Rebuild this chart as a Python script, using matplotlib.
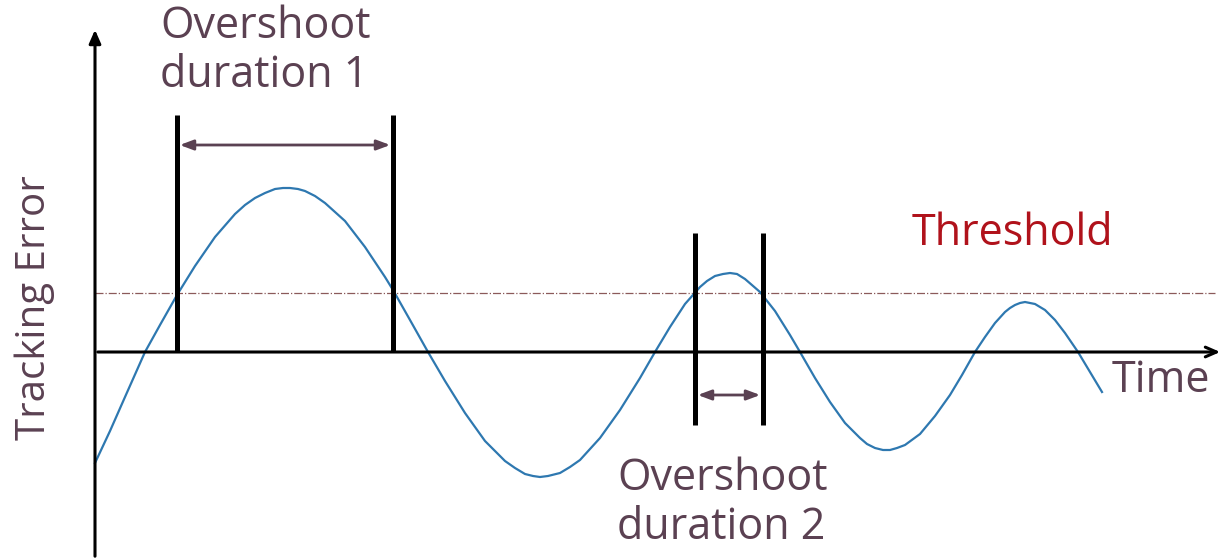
import numpy as np
import matplotlib.pyplot as plt

# tracking error curve (x: time, y: error)
t = [0, 15, 30, 50, 65, 82, 100, 120, 140, 150, 160, 170, 180, 188, 195, 203, 210,
     220, 230, 250, 270, 290, 298, 315, 333, 350, 370, 390, 410, 420, 430, 438,
     445, 453, 465, 475, 485, 505, 525, 545, 560, 575, 590, 605, 612, 620, 628,
     635, 642, 650, 665, 680, 695, 705, 720, 735, 750, 765, 772, 780, 788, 795,
     802, 810, 825, 840, 855, 867, 880, 890, 900, 910, 915, 920, 925, 930, 935,
     940, 950, 960, 970, 983, 995, 1007]
err = [-111, -79, -45, 0, 27, 57, 86, 115, 138, 147, 154, 159, 163, 164, 164, 163, 161,
       156, 149, 131, 105, 75, 62, 32, 0, -29, -61, -89, -109, -116, -122, -124,
       -125, -124, -121, -115, -108, -86, -58, -26, 0, 25, 48, 65, 71, 76, 78,
       79, 78, 73, 60, 41, 17, 0, -26, -50, -71, -86, -92, -96, -98, -98,
       -96, -93, -82, -64, -43, -23, 0, 15, 29, 40, 44, 47, 49, 50, 49,
       48, 42, 32, 19, 0, -20, -40]

threshold = 59
zero_cross_1 = (82, 298)     # overshoot 1 start/end
zero_cross_2 = (600, 668)    # overshoot 2 start/end

txt = '#5b4152'
arrow_col = '#5a4152'

fig = plt.figure(figsize=(12.25, 5.59), dpi=100)
ax = fig.add_axes([0, 0, 1, 1])
ax.set_xlim(-95, 1130)
ax.set_ylim(-207, 352)
ax.axis('off')
plt.rcParams['font.family'] = ['Open Sans', 'DejaVu Sans']

# axes with arrows
ax.annotate('', xy=(0, 325), xytext=(0, -207),
            arrowprops=dict(arrowstyle='-|>,head_width=0.35,head_length=0.8', color='black', lw=2.2))
ax.annotate('', xy=(1128, 0), xytext=(0, 0),
            arrowprops=dict(arrowstyle='->,head_width=0.35,head_length=0.8', color='black', lw=2.2))

# threshold
ax.plot([0, 1120], [threshold, threshold], color='#8b5a5a', lw=0.9, ls='-.')

# curve
ax.plot(t, err, color='#2e78b0', lw=1.6)

# overshoot markers
for x in zero_cross_1:
    ax.plot([x, x], [0, 237], color='black', lw=3.6, solid_capstyle='butt')
for x in zero_cross_2:
    ax.plot([x, x], [-73, 119], color='black', lw=3.6, solid_capstyle='butt')

ax.annotate('', xy=(zero_cross_1[1], 207), xytext=(zero_cross_1[0], 207),
            arrowprops=dict(arrowstyle='<|-|>,head_width=0.3,head_length=0.8',
                            color=arrow_col, lw=2, shrinkA=2, shrinkB=2))
ax.annotate('', xy=(zero_cross_2[1], -43), xytext=(zero_cross_2[0], -43),
            arrowprops=dict(arrowstyle='<|-|>,head_width=0.3,head_length=0.8',
                            color=arrow_col, lw=2, shrinkA=2, shrinkB=2))

fs = 31
ax.text(65, 348, 'Overshoot\nduration 1', color=txt, fontsize=fs, va='top', ha='left', linespacing=1.15)
ax.text(522, -104, 'Overshoot\nduration 2', color=txt, fontsize=fs, va='top', ha='left', linespacing=1.15)
ax.text(817, 118, 'Threshold', color='#b0121b', fontsize=fs, va='center', ha='left')
ax.text(1017, -29, 'Time', color=txt, fontsize=fs, va='center', ha='left')
ax.text(-60, 44, 'Tracking Error', color=txt, fontsize=29, va='center', ha='center', rotation=90)

fig.savefig('out.png', dpi=100)
